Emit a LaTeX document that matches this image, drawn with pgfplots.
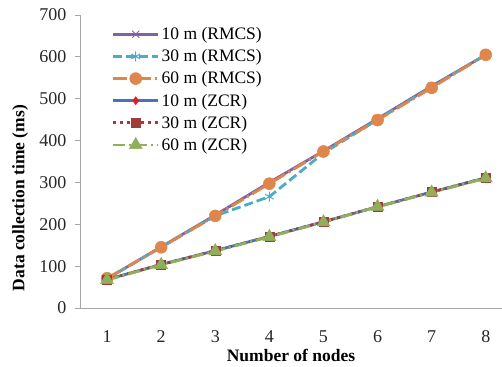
\documentclass[border=0pt]{standalone}
\usepackage{pgfplots}
\pgfplotsset{compat=1.18}
\usepackage{fontspec}
\setmainfont{Liberation Serif}
\definecolor{cpurple}{RGB}{128,100,162}
\definecolor{cteal}{RGB}{75,172,198}
\definecolor{corange}{RGB}{222,134,76}
\definecolor{cblue}{RGB}{70,115,185}
\definecolor{cred}{RGB}{220,30,40}
\definecolor{cdred}{RGB}{160,60,60}
\definecolor{cgreen}{RGB}{145,175,90}
\begin{document}
\begin{tikzpicture}
\begin{axis}[
  scale only axis,
  width=422pt, height=293pt,
  xmin=0.5, xmax=8.3, ymin=0, ymax=700,
  axis x line*=bottom, axis y line*=left,
  axis line style={draw=gray!70, line width=0.8pt},
  xtick={1,...,8}, ytick={0,100,...,700},
  x tick style={draw=none},
  y tick style={draw=gray!70, line width=0.8pt},
  tick align=outside, major tick length=5pt,
  tick label style={font=\fontsize{18}{21}\selectfont, text=black!85},
  /pgf/number format/assume math mode=true,
  xticklabel style={yshift=-14pt},
  yticklabel style={xshift=-5pt},
  xlabel={\textbf{Number of nodes}},
  ylabel={\textbf{Data collection time (ms)}},
  label style={font=\fontsize{17.5}{20}\selectfont},
  xlabel style={at={(axis description cs:0.5,0)}, anchor=center, yshift=-47pt},
  ylabel style={at={(axis description cs:-0.142,0.375)}, anchor=center},
  legend style={draw=none, fill=none, at={(0.075,0.965)}, anchor=north west,
    font=\fontsize{17.5}{20}\selectfont, row sep=4.5pt, inner sep=0pt},
  legend cell align=left,
  legend image code/.code={\draw[mark repeat=2,mark phase=2] plot coordinates {(0pt,0pt)(22.5pt,0pt)(45pt,0pt)};},
  every axis plot/.append style={line width=2.8pt},
  clip=false,
]
\addplot[cpurple, mark=x, mark size=5pt, mark options={solid, line width=1pt}] coordinates {(1,70)(2,146)(3,222)(4,300)(5,375)(6,452)(7,530)(8,605)};
\addlegendentry{10 m (RMCS)}
\addplot[cteal, dash pattern=on 9pt off 4pt, mark=asterisk, mark size=5pt, mark options={solid, line width=1pt}] coordinates {(1,70)(2,145)(3,220)(4,266)(5,370)(6,450)(7,528)(8,605)};
\addlegendentry{30 m (RMCS)}
\addplot[corange, dash pattern=on 14pt off 4pt on 2pt off 4pt, mark=*, mark size=6pt, mark options={solid, line width=0.5pt}] coordinates {(1,71)(2,145)(3,220)(4,297)(5,374)(6,449)(7,526)(8,605)};
\addlegendentry{60 m (RMCS)}
\addplot[cblue, mark=diamond*, mark size=4pt, mark options={solid, fill=cred, draw=cred, line width=0.5pt}] coordinates {(1,68)(2,104)(3,137)(4,171)(5,206)(6,242)(7,277)(8,311)};
\addlegendentry{10 m (ZCR)}
\addplot[cdred, dash pattern=on 3pt off 4pt, mark=square*, mark size=4.5pt, mark options={solid, line width=0.5pt}] coordinates {(1,68)(2,104)(3,137)(4,171)(5,206)(6,242)(7,277)(8,311)};
\addlegendentry{30 m (ZCR)}
\addplot[cgreen, dash pattern=on 12pt off 4pt on 2pt off 4pt, mark=triangle*, mark size=7.5pt, mark options={solid, line width=0.5pt}] coordinates {(1,67)(2,103)(3,136)(4,170)(5,205)(6,242)(7,276)(8,310)};
\addlegendentry{60 m (ZCR)}
\coordinate (sw) at (rel axis cs:0,0);
\coordinate (ne) at (rel axis cs:1,1);
\end{axis}
\pgfresetboundingbox
\path ([shift={(-80pt,-59pt)}]sw) rectangle ([shift={(0pt,15pt)}]ne);
\end{tikzpicture}
\end{document}
